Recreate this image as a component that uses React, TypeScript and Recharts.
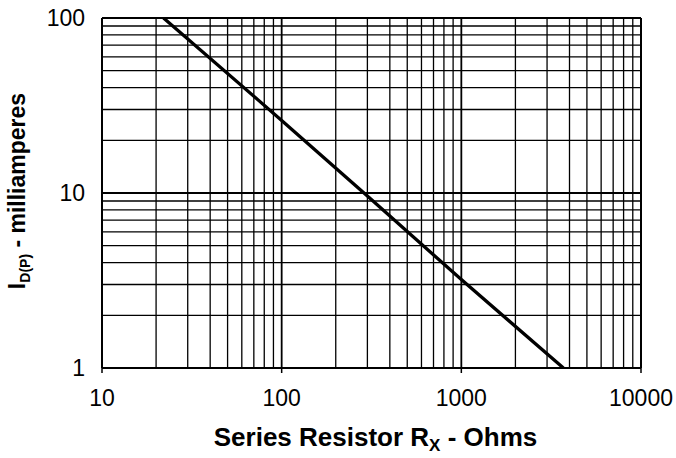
import { LineChart, Line, XAxis, YAxis, ReferenceLine, Label } from "recharts";

// values (log-log)
const RESISTANCE = [22, 100, 300, 1000, 3700];
const CURRENT = [100, 26, 9.6, 3.2, 1];

const X_TICKS = [10, 100, 1000, 10000];
const Y_TICKS = [1, 10, 100];

const X_MINOR = [20, 30, 40, 50, 60, 70, 80, 90, 200, 300, 400, 500, 600, 700, 800, 900, 2000, 3000, 4000, 5000, 6000, 7000, 8000, 9000];
const X_MAJOR = [100, 1000];
const Y_MINOR = [2, 3, 4, 5, 6, 7, 8, 9, 20, 30, 40, 50, 60, 70, 80, 90];
const Y_MAJOR = [10];

const FONT = "Arial, 'Liberation Sans', sans-serif";

const data = RESISTANCE.map((r, i) => ({ r, id: CURRENT[i] }));

function XTitle(props: any) {
  const { x, y, width } = props.viewBox;
  return (
    <text x={x + width / 2 + 4} y={y + 78} textAnchor="middle" fontFamily={FONT} fontWeight="bold" fontSize={26} fill="#000">
      Series Resistor R
      <tspan fontSize={17} dy={5}>X</tspan>
      <tspan dy={-5}> - Ohms</tspan>
    </text>
  );
}

function YTitle(props: any) {
  const { y, height } = props.viewBox;
  const cx = 25;
  const cy = y + height / 2 - 2;
  return (
    <text
      x={cx}
      y={cy}
      transform={`rotate(-90 ${cx} ${cy})`}
      textAnchor="middle"
      fontFamily={FONT}
      fontWeight="bold"
      fontSize={23}
      fill="#000"
    >
      I
      <tspan fontSize={14} dy={5}>D(P)</tspan>
      <tspan dy={-5}> - milliamperes</tspan>
    </text>
  );
}

export default function App() {
  return (
    <div style={{ position: "absolute", left: 0, top: 0, background: "#fff" }}>
      <LineChart width={676} height={458} data={data} margin={{ top: 18, right: 35, bottom: 0, left: 0 }}>
        <XAxis
          dataKey="r"
          type="number"
          scale="log"
          domain={[10, 10000]}
          ticks={X_TICKS}
          interval={0}
          allowDataOverflow
          height={90}
          axisLine={{ stroke: "#000", strokeWidth: 2 }}
          tickLine={{ stroke: "#000", strokeWidth: 1.5 }}
          tickSize={5}
          tickMargin={17}
          tick={{ fontSize: 23, fill: "#000", fontFamily: FONT }}
        >
          <Label content={XTitle} />
        </XAxis>
        <YAxis
          dataKey="id"
          type="number"
          scale="log"
          domain={[1, 100]}
          ticks={Y_TICKS}
          interval={0}
          allowDataOverflow
          width={102}
          axisLine={{ stroke: "#000", strokeWidth: 2 }}
          tickLine={false}
          tickSize={0}
          tickMargin={17}
          tick={{ fontSize: 23, fill: "#000", fontFamily: FONT }}
        >
          <Label content={YTitle} />
        </YAxis>
        {X_MINOR.map((v) => (
          <ReferenceLine key={`xm${v}`} x={v} stroke="#000" strokeWidth={1.3} />
        ))}
        {X_MAJOR.map((v) => (
          <ReferenceLine key={`xM${v}`} x={v} stroke="#000" strokeWidth={1.8} />
        ))}
        {Y_MINOR.map((v) => (
          <ReferenceLine key={`ym${v}`} y={v} stroke="#000" strokeWidth={1.3} />
        ))}
        {Y_MAJOR.map((v) => (
          <ReferenceLine key={`yM${v}`} y={v} stroke="#000" strokeWidth={1.8} />
        ))}
        <ReferenceLine x={10000} stroke="#000" strokeWidth={2} />
        <ReferenceLine y={100} stroke="#000" strokeWidth={2} />
        <Line
          dataKey="id"
          type="linear"
          stroke="#000"
          strokeWidth={3.3}
          dot={false}
          isAnimationActive={false}
        />
      </LineChart>
    </div>
  );
}
